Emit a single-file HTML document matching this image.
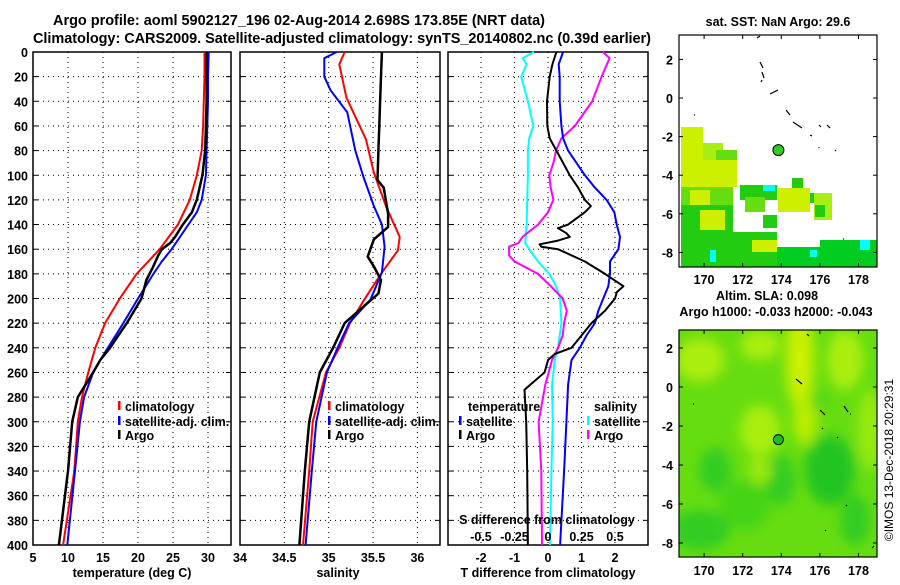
<!DOCTYPE html>
<html><head><meta charset="utf-8"><style>
html,body{margin:0;padding:0;background:#fff;}
svg text{font-family:"Liberation Sans",Arial,sans-serif;font-weight:bold;fill:#000;}
</style></head><body>
<svg id="c" width="900" height="580" viewBox="0 0 900 580" xmlns="http://www.w3.org/2000/svg">
<defs>
<filter id="bl" x="-50%" y="-50%" width="200%" height="200%"><feGaussianBlur stdDeviation="6"/></filter>
<clipPath id="m2clip"><rect x="679" y="330" width="198" height="227"/></clipPath>
</defs>
<text x="299" y="25" font-size="14.5" text-anchor="middle" textLength="492">Argo profile: aoml 5902127_196 02-Aug-2014 2.698S 173.85E (NRT data)</text>
<text x="342" y="43" font-size="14.5" text-anchor="middle" textLength="618">Climatology: CARS2009. Satellite-adjusted climatology: synTS_20140802.nc (0.39d earlier)</text>
<g id="g"></g>
</svg>
<script>
// ---- data ----
const depthTicks=[0,20,40,60,80,100,120,140,160,180,200,220,240,260,280,300,320,340,360,380,400];
const tempTicks=[5,10,15,20,25,30];
const salTicks=[34,34.5,35,35.5,36];
const tdiffTicks=[-2,-1,0,1,2];
const sdiffTicks=[-0.5,-0.25,0,0.25,0.5];
const tdiffTickLabels=["-2","-1","0","1","2"];
const sdiffTickLabels=["-0.5","-0.25","0","0.25","0.5"];
const lonTicks=[170,172,174,176,178];
const latTicks=[2,0,-2,-4,-6,-8];

const tempDepth=[0,20,40,60,80,100,120,130,140,150,155,160,165,175,185,200,220,240,250,260,280,300,340,400];
const tempArgo=[29.8,29.8,29.8,29.7,29.6,29.2,28.4,27.7,26.4,25.3,24.6,23.4,22.9,22.1,21.2,20.5,18.4,16.0,14.6,13.6,11.4,10.6,10.0,8.7];
const climDepth=[0,20,40,60,80,100,120,140,160,180,200,220,240,260,280,300,340,400];
const tempClim=[29.5,29.5,29.4,29.3,29.1,28.4,27.4,25.7,23.1,19.8,17.4,15.3,13.9,12.9,12.0,11.4,10.9,9.3];
const satDepth=[0,20,40,60,80,100,120,130,140,150,160,170,180,200,220,240,250,260,280,300,340,400];
const tempSat=[30.1,30.0,30.0,29.9,29.8,29.7,29.1,28.4,27.2,26.0,24.8,23.4,22.2,20.0,17.9,15.7,14.6,13.6,12.3,11.7,11.0,9.9];

const salDepth=[0,5,20,31,49,80,101,125,140,158,179,201,220,240,260,300,340,400];
const salSat=[35.09,34.95,34.95,35.02,35.21,35.30,35.39,35.51,35.60,35.63,35.60,35.47,35.23,35.10,34.98,34.86,34.81,34.74];
const salClimDepth=[0,10,37,71,98,126,150,161,179,201,220,240,260,300,340,400];
const salClim=[35.18,35.12,35.20,35.42,35.51,35.65,35.80,35.78,35.60,35.40,35.24,35.12,34.97,34.82,34.78,34.71];
const salArgoDepth=[0,20,40,60,80,104,110,131,142,152,166,174,185,196,220,240,260,300,340,400];
const salArgo=[35.60,35.59,35.58,35.57,35.56,35.55,35.62,35.67,35.67,35.51,35.44,35.51,35.59,35.56,35.18,35.05,34.90,34.78,34.73,34.67];

const dTDepth=[0,10,20,40,60,70,80,90,100,110,120,125,130,140,143,147,150,153,156,158,160,170,180,190,195,200,210,220,230,240,245,250,260,274,300,340,400];
const dTArgo=[0.25,0.13,0.05,-0.03,-0.02,0.05,0.25,0.45,0.65,0.9,1.1,1.28,1.1,0.6,0.3,0.55,0.65,0.3,-0.25,-0.2,0.3,1.1,1.7,2.25,2.05,2.0,1.7,1.3,1.0,0.7,0.2,0.0,-0.1,-0.7,-0.65,-0.62,-0.6];
const dTSatDepth=[0,10,20,40,60,70,80,90,100,110,120,130,140,150,160,170,180,190,200,210,220,230,240,250,270,300,340,400];
const dTSat=[0.45,0.32,0.35,0.35,0.4,0.45,0.6,0.85,1.1,1.4,1.75,1.98,2.05,2.15,2.1,1.85,1.85,1.8,1.65,1.5,1.4,1.15,0.95,0.7,0.6,0.55,0.48,0.36];
const dSDepth=[0,5,20,40,60,70,80,90,100,110,120,130,140,150,155,158,165,170,180,190,200,210,220,230,240,250,270,300,340,400];
const dSArgo=[0.41,0.46,0.40,0.33,0.20,0.10,0.06,0.04,0.01,0.02,0.04,0.0,-0.075,-0.19,-0.22,-0.29,-0.29,-0.25,-0.075,0.02,0.11,0.14,0.12,0.11,0.075,0.03,-0.02,-0.07,-0.05,-0.045];
const dSSatDepth=[0,5,10,20,40,60,70,80,100,120,140,155,160,170,180,190,200,220,240,250,270,300,340,400];
const dSSat=[-0.105,-0.19,-0.16,-0.2,-0.15,-0.11,-0.14,-0.15,-0.15,-0.155,-0.16,-0.17,-0.14,-0.075,0.01,0.06,0.09,0.1,0.075,0.05,0.03,0.035,0.025,0.015];

const argoLon=173.85, argoLat=-2.698;

// ---- axes ----
const NS="http://www.w3.org/2000/svg";
const G=document.getElementById('g');
function mk(tag,attrs,parent){const e=document.createElementNS(NS,tag);for(const k in attrs)e.setAttribute(k,attrs[k]);(parent||G).appendChild(e);return e;}
const Y0=52,Y1=545;
const yD=d=>Y0+d*(Y1-Y0)/400;
const P1={x0:33,x1:231}, P2={x0:240,x1:440}, P3={x0:448,x1:648};
const xT=t=>P1.x0+(t-5)*7.0;
const xS=s=>P2.x0+(s-34)*88.7;
const xdT=v=>548+v*33.5;
const xdS=v=>548+v*134;
const M1={x0:679,x1:877,y0:35,y1:267}, M2={x0:679,x1:877,y0:330,y1:557};
const lonX=l=>679+(l-168.7)*19.3;
const lat1Y=l=>98-l*19.3;
const lat2Y=l=>387-l*19.5;

function panel(P,name,xticks,xf){
  const g=mk('g',{});
  
  
  depthTicks.forEach(d=>{ if(d>0&&d<400){
    const l=mk('line',{x1:P.x0,x2:P.x1,y1:yD(d),y2:yD(d),stroke:'#000','stroke-width':1,'stroke-dasharray':'1,4'},g);
    
    mk('line',{x1:P.x0,x2:P.x0+5,y1:yD(d),y2:yD(d),stroke:'#000'},g);
    mk('line',{x1:P.x1-5,x2:P.x1,y1:yD(d),y2:yD(d),stroke:'#000'},g);
  }});
  xticks.forEach(t=>{const x=xf(t); if(x>P.x0+1&&x<P.x1-1){
    const l=mk('line',{x1:x,x2:x,y1:Y0,y2:Y1,stroke:'#000','stroke-width':1,'stroke-dasharray':'1,4'},g);
    
  }});
  const r=mk('rect',{x:P.x0,y:Y0,width:P.x1-P.x0,height:Y1-Y0,fill:'none',stroke:'#000','stroke-width':1.5},g);
  
  return g;
}
function series(depths,vals,xf,color,name,w){
  const pts=depths.map((d,i)=>xf(vals[i]).toFixed(1)+','+yD(d).toFixed(1)).join(' ');
  const p=mk('polyline',{points:pts,fill:'none',stroke:color,'stroke-width':w||2,'stroke-linejoin':'round'});
  
  
}
function txt(x,y,s,size,anchor,name,extra){
  const t=mk('text',Object.assign({x:x,y:y,'font-size':size,'text-anchor':anchor||'start'},extra||{}));
  t.textContent=s;
  
  
  return t;
}
function legend(x,y,color,label,name){
  mk('rect',{x:x,y:y-10,width:2.5,height:9,fill:color});
  txt(x+7,y,label,12.5,'start',name);
}

// panel 1
panel(P1,'temperature-panel',tempTicks,xT);
depthTicks.forEach(d=>txt(28,yD(d)+5,String(d),12.5,'end','depth-tick-label'));
tempTicks.forEach(t=>txt(xT(t),562,String(t),12.5,'middle','temp-tick-label'));
txt(132,577,'temperature (deg C)',12.5,'middle','x-axis-title-temperature');
series(climDepth,tempClim,xT,'#ff0000','temp-climatology-line');
series(satDepth,tempSat,xT,'#0000ff','temp-satellite-line');
series(tempDepth,tempArgo,xT,'#000000','temp-argo-line',2.5);
legend(118,411,'#f00','climatology','legend-climatology');
legend(118,426,'#00f','satellite-adj. clim.','legend-satellite-adj');
legend(118,440,'#000','Argo','legend-argo');

// panel 2
panel(P2,'salinity-panel',salTicks,xS);
salTicks.forEach(t=>txt(xS(t),562,String(t),12.5,'middle','sal-tick-label'));
txt(338,577,'salinity',12.5,'middle','x-axis-title-salinity');
series(salClimDepth,salClim,xS,'#ff0000','sal-climatology-line');
series(salDepth,salSat,xS,'#0000ff','sal-satellite-line');
series(salArgoDepth,salArgo,xS,'#000000','sal-argo-line',2.5);
legend(328,411,'#f00','climatology','legend2-climatology');
legend(328,426,'#00f','satellite-adj. clim.','legend2-satellite-adj');
legend(328,440,'#000','Argo','legend2-argo');

// panel 3
panel(P3,'difference-panel',tdiffTicks,xdT);
tdiffTicks.forEach((t,i)=>txt(xdT(t),562,tdiffTickLabels[i],12.5,'middle','tdiff-tick-label'));
txt(548,577,'T difference from climatology',12.5,'middle','x-axis-title-tdiff');
series(dSSatDepth,dSSat,xdS,'#00ffff','sdiff-satellite-line');
series(dSDepth,dSArgo,xdS,'#ff00ff','sdiff-argo-line');
series(dTSatDepth,dTSat,xdT,'#0000ff','tdiff-satellite-line');
series(dTDepth,dTArgo,xdT,'#000000','tdiff-argo-line',2);
txt(547,524,'S difference from climatology',12.5,'middle','s-diff-axis-title');
sdiffTicks.forEach((t,i)=>txt(xdS(t),541,sdiffTickLabels[i],12.5,'middle','sdiff-tick-label'));
txt(468,411,'temperature',12.5,'start','legend3-temperature-header');
legend(459,426,'#00f','satellite','legend3-t-satellite');
legend(459,440,'#000','Argo','legend3-t-argo');
txt(594,411,'salinity',12.5,'start','legend3-salinity-header');
legend(587,426,'#0ff','satellite','legend3-s-satellite');
legend(587,440,'#f0f','Argo','legend3-s-argo');

// ---- map 1 (SST) ----
const map1=mk('g',{});


mk('rect',{x:M1.x0,y:M1.y0,width:198,height:232,fill:'#fff'},map1);
const Y='#ccf000',Y2='#a8ee11',GR='#22cc11',GR2='#00cc22',LG='#66dd11';
[[681,127,22,60,Y],[703,143,20,44,Y2],[716,150,21,37,LG],[681,160,56,27,Y],[681,187,52,30,LG],[690,190,20,20,Y],[681,205,52,62,GR],[700,210,25,20,Y],[740,185,37,15,GR],[745,197,20,15,LG],[763,215,14,13,GR],[733,232,44,35,GR],[752,240,25,12,Y],[778,188,32,24,Y],[792,178,11,10,GR],[810,193,10,10,GR],[814,193,18,27,Y2],[815,205,10,12,GR],[777,247,100,20,GR2],[820,240,57,10,GR2],[763,185,12,6,'#00ffff'],[810,250,7,7,'#00ffff'],[860,240,10,10,'#00ffff'],[710,250,6,12,'#00ffff']].forEach(r=>{
  mk('rect',{x:r[0],y:r[1],width:r[2],height:r[3],fill:r[4]},map1);
});
[[757,38,760,36],[760,62,763,68],[762,72,764,78],[762,80,761,82],[770,94,778,90],[786,110,790,115],[793,122,802,128],[810,135,812,136],[819,125,821,127],[827,125,830,128],[819,147,819,148],[835,150,836,151],[694,115,695,115],[843,239,844,239]].forEach(s=>{
  mk('line',{x1:s[0],y1:s[1],x2:s[2],y2:s[3],stroke:'#000','stroke-width':1.2},map1);
});
const c1=mk('circle',{cx:lonX(argoLon),cy:lat1Y(argoLat),r:5.5,fill:'#33cc22',stroke:'#000','stroke-width':1},map1);


mk('rect',{x:M1.x0,y:M1.y0,width:198,height:232,fill:'none',stroke:'#000','stroke-width':1.2},map1);
txt(778,26,'sat. SST: NaN Argo: 29.6',12.5,'middle','sst-map-title');

// ---- map 2 (SLA) ----
const map2=mk('g',{});


const blobs=mk('g',{'clip-path':'url(#m2clip)'},map2);
mk('rect',{x:679,y:330,width:198,height:227,fill:'#66dd11'},blobs);
const bg=mk('g',{filter:'url(#bl)'},blobs);
[[800,360,14,50,'#ccf000'],[805,420,12,25,'#bbee00'],[700,360,25,22,'#aaee11'],[760,345,20,15,'#aaee11'],[845,360,18,30,'#aaee11'],[870,430,12,40,'#99ea11'],[760,430,20,25,'#aaee11'],[745,505,25,25,'#44d418'],[715,470,16,22,'#33cc22'],[830,470,25,35,'#22c422'],[780,480,15,25,'#33cc22'],[700,530,30,20,'#33cc22'],[855,520,15,25,'#33cc22'],[760,470,12,15,'#99e811'],[820,400,10,12,'#55d818']].forEach(b=>{
  mk('ellipse',{cx:b[0],cy:b[1],rx:b[2],ry:b[3],fill:b[4]},bg);
});
[[807,334,809,336],[796,379,802,384],[844,406,848,412],[820,410,825,415],[850,414,851,414],[822,428,823,429],[837,437,838,438],[693,404,694,404],[846,505,847,506],[825,530,826,531],[872,548,874,546]].forEach(s=>{
  mk('line',{x1:s[0],y1:s[1],x2:s[2],y2:s[3],stroke:'#000','stroke-width':1.2},map2);
});
const c2=mk('circle',{cx:lonX(argoLon),cy:lat2Y(argoLat),r:5,fill:'#22bb22',stroke:'#000','stroke-width':1},map2);


mk('rect',{x:M2.x0,y:M2.y0,width:198,height:227,fill:'none',stroke:'#000','stroke-width':1.2},map2);
txt(767,300,'Altim. SLA: 0.098',12.5,'middle','sla-map-title');
txt(776,316,'Argo h1000: -0.033 h2000: -0.043',12.5,'middle','argo-height-label');

// map ticks
lonTicks.forEach(l=>{
  const x=lonX(l);
  [[M1.y0,M1.y1],[M2.y0,M2.y1]].forEach(([a,b])=>{
    mk('line',{x1:x,x2:x,y1:a,y2:a+4,stroke:'#000'});
    mk('line',{x1:x,x2:x,y1:b-4,y2:b,stroke:'#000'});
  });
  txt(x,284,String(l),12.5,'middle','sst-lon-tick-label');
  txt(x,575,String(l),12.5,'middle','sla-lon-tick-label');
});
latTicks.forEach(l=>{
  const y1=lat1Y(l), y2=lat2Y(l);
  mk('line',{x1:M1.x0,x2:M1.x0+4,y1:y1,y2:y1,stroke:'#000'});
  mk('line',{x1:M1.x1-4,x2:M1.x1,y1:y1,y2:y1,stroke:'#000'});
  mk('line',{x1:M2.x0,x2:M2.x0+4,y1:y2,y2:y2,stroke:'#000'});
  mk('line',{x1:M2.x1-4,x2:M2.x1,y1:y2,y2:y2,stroke:'#000'});
  txt(673,y1+5,String(l),12.5,'end','sst-lat-tick-label');
  txt(673,y2+5,String(l),12.5,'end','sla-lat-tick-label');
});
const cr=txt(893,460,'©IMOS 13-Dec-2018 20:29:31',12,'middle','imos-credit',{transform:'rotate(-90 893 460)','font-weight':'normal'});
cr.style.fontWeight='normal';
</script>
</body></html>
